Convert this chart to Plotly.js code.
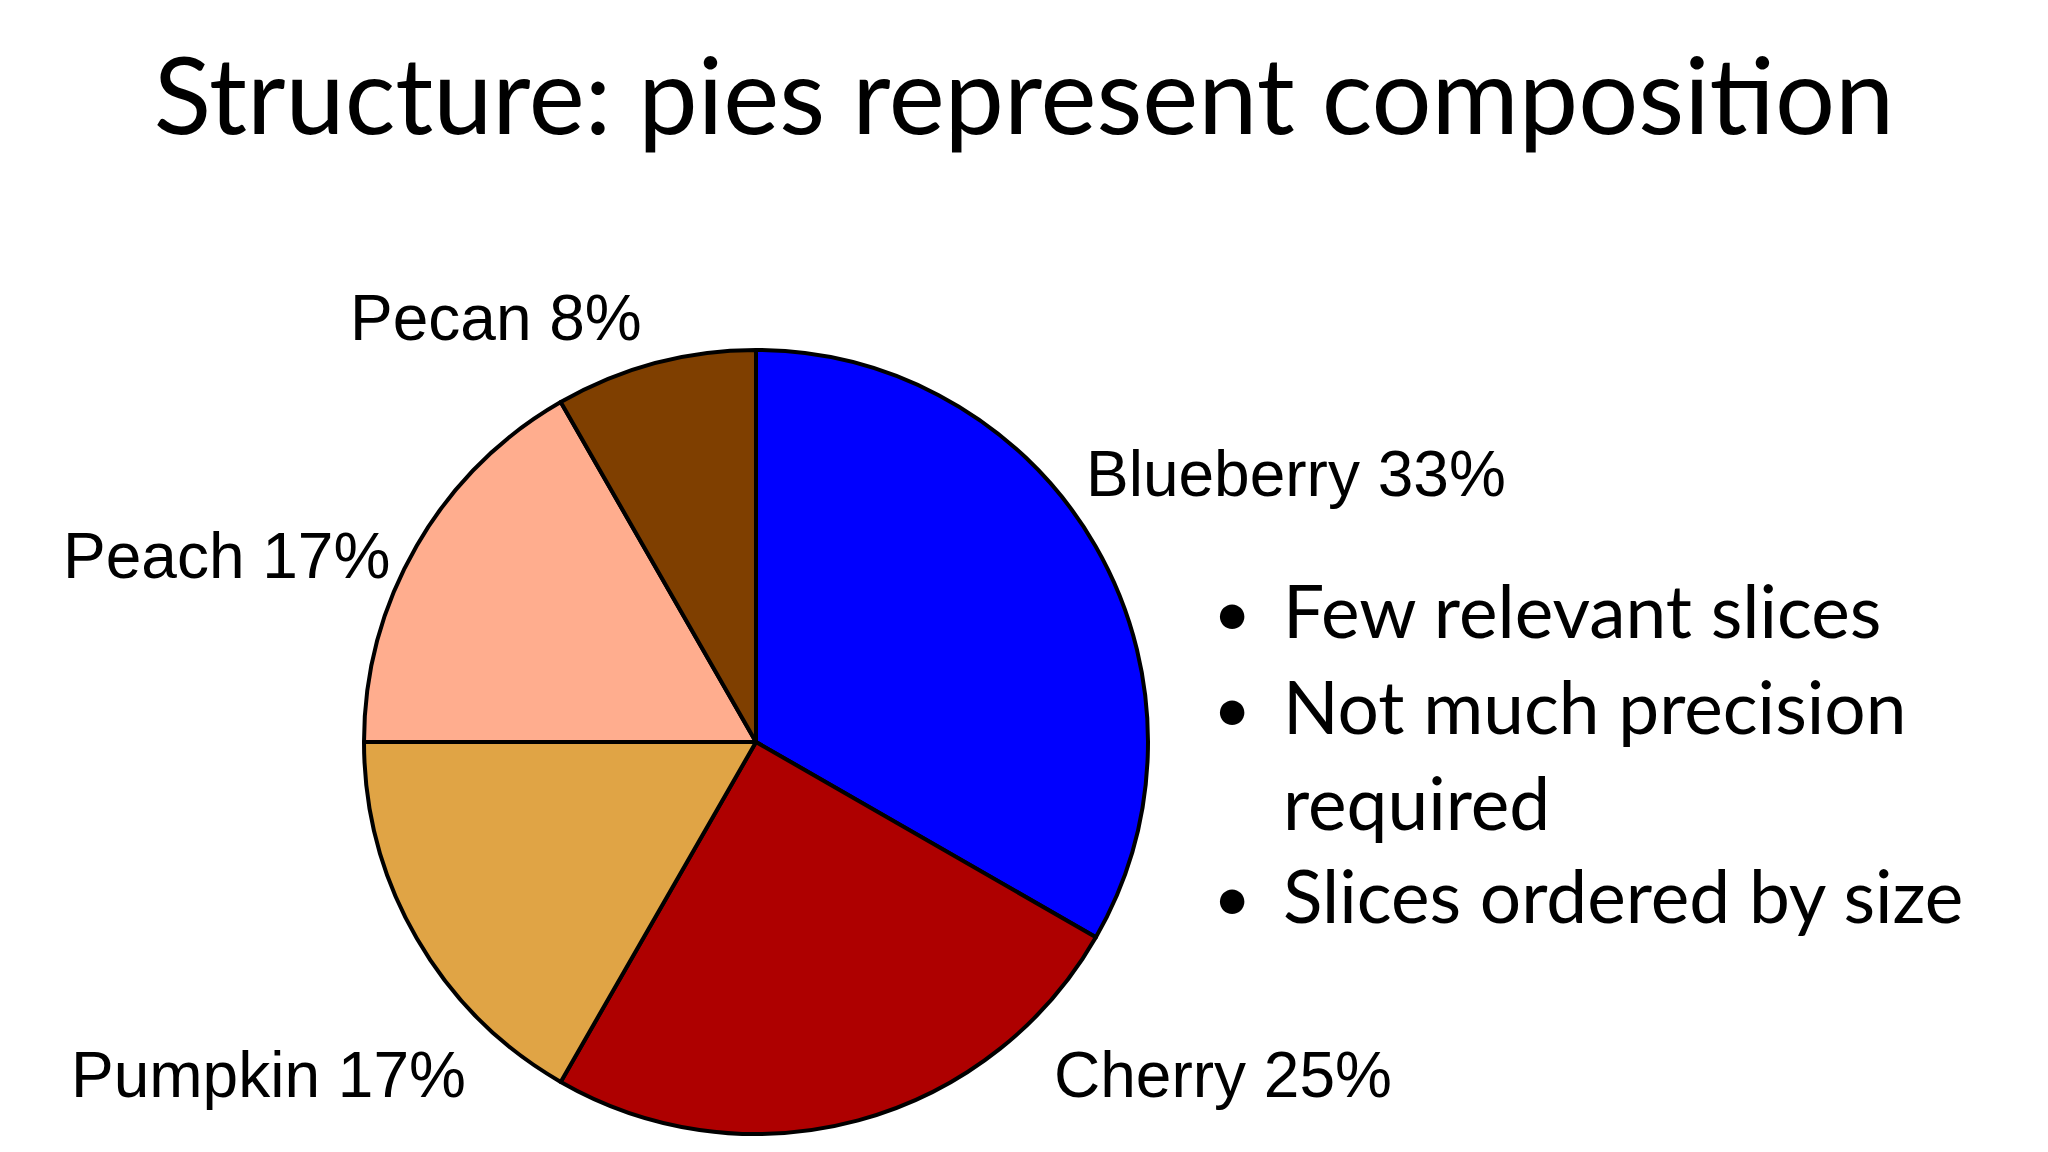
<!DOCTYPE html>
<html>
<head>
<meta charset="utf-8">
<script src="https://cdn.plot.ly/plotly-3.0.1.min.js"></script>
<style>
  html, body { margin: 0; padding: 0; background: #fff; }
  #pie_chart { width: 2048px; height: 1152px; }
</style>
</head>
<body>
<div id="pie_chart"></div>
<script>
var W = 2048, H = 1152;

// pie data, clockwise from 12 o'clock
var pies = ['Blueberry', 'Cherry', 'Pumpkin', 'Peach', 'Pecan'];
var shares = [33.3, 25, 16.7, 16.7, 8.3];
var colors = ['#0000ff', '#ae0000', '#e0a445', '#ffad8e', '#7f3f00'];

var bullets = ['Few relevant slices', 'Not much precision', 'required', 'Slices ordered by size'];
var bulletDots = [true, true, false, true];

// label spots in page pixels (anchor x, middle y, side)
var labelPos = [
	{x: 1084, y: 474, side: 'left'},
	{x: 1052, y: 1075, side: 'left'},
	{x: 468, y: 1075, side: 'right'},
	{x: 392, y: 556, side: 'right'},
	{x: 644, y: 318, side: 'right'}
];

function px(x) { return x / W; }
function py(y) { return 1 - y / H; }

var cx = 756, cy = 742, r = 392;

var data = [{
	type: 'pie',
	labels: pies,
	values: shares,
	sort: false,
	direction: 'clockwise',
	rotation: 0,
	textinfo: 'none',
	hoverinfo: 'label+percent',
	showlegend: false,
	marker: {
		colors: colors,
		line: {color: '#000', width: 4}
	},
	domain: {
		x: [px(cx - r), px(cx + r)],
		y: [py(cy + r), py(cy - r)]
	}
}];

var annotations = [];
pies.forEach(function(name, i) {
	annotations.push({
		xref: 'paper', yref: 'paper',
		x: px(labelPos[i].x), y: py(labelPos[i].y),
		xanchor: labelPos[i].side, yanchor: 'middle',
		text: name + ' ' + Math.round(shares[i]) + '%',
		showarrow: false,
		font: {family: 'Liberation Sans, Arial, sans-serif', size: 64, color: '#000'}
	});
});

var lineY = [635, 731, 827, 920];
bullets.forEach(function(t, i) {
	annotations.push({
		xref: 'paper', yref: 'paper',
		x: px(1281), y: py(lineY[i] - 25),
		xanchor: 'left', yanchor: 'middle',
		text: t,
		showarrow: false,
		font: {family: 'Lato, sans-serif', size: 73, color: '#000'}
	});
	if (bulletDots[i]) {
		annotations.push({
			xref: 'paper', yref: 'paper',
			x: px(1232), y: py(lineY[i] - 25),
			xanchor: 'center', yanchor: 'middle',
			text: '\u2022',
			showarrow: false,
			font: {family: 'Lato, sans-serif', size: 66, color: '#000'}
		});
	}
});

var layout = {
	width: W,
	height: H,
	margin: {l: 0, r: 0, t: 0, b: 0, pad: 0},
	paper_bgcolor: '#fff',
	title: {
		text: 'Structure: pies represent composition',
		x: 0.5, xanchor: 'center',
		y: py(97), yanchor: 'middle',
		font: {family: 'Lato, sans-serif', size: 106, color: '#000'}
	},
	annotations: annotations
};

Plotly.newPlot('pie_chart', data, layout, {displayModeBar: false});
</script>
</body>
</html>
